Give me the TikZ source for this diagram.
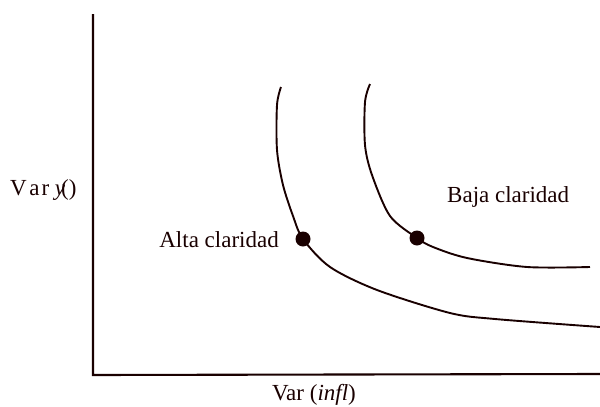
\documentclass[tikz,border=0pt]{standalone}
\usepackage{fontspec}
\setmainfont{Liberation Serif}
\begin{document}
\begin{tikzpicture}[x=1pt,y=-1pt,
  axisline/.style={line width=2.1pt, draw=black!90!red},
  curveline/.style={line width=1.9pt, draw=black!90!red},
  dotnode/.style={circle, fill=black!90!red, inner sep=0pt, minimum size=15pt},
  lbl/.style={font=\fontsize{23}{27}\selectfont, text=black!90!red, inner sep=0pt}]
\useasboundingbox (0,0) rectangle (600,407);
% axes
\coordinate (ytop) at (93,14);
\coordinate (origin) at (93,375);
\coordinate (xend) at (600,374);
\draw[axisline] (ytop) -- (origin) -- (xend);
% dots
\node[dotnode] (dA) at (303,239) {};
\node[dotnode] (dB) at (417,238) {};
% curve 1 (Alta claridad)
\draw[curveline] plot[smooth, tension=0.5] coordinates {(281,87) (277,105) (277,150) (283,185) (293,216) (303,239) (330,267) (377,290) (450,313) (495,319) (600,327)};
% curve 2 (Baja claridad)
\draw[curveline] plot[smooth, tension=0.5] coordinates {(370,84) (365,102) (365,145) (372,175) (390,216) (417,238) (433,247) (467,258) (527,267) (590,267)};
% labels
\node[lbl, anchor=west] (ylab) at (10,190) {V\kern2.5pt a\kern2pt r \textit{y}\kern-4pt()};
\node[lbl, anchor=east] (alta) at (279,240) {Alta claridad};
\node[lbl, anchor=west] (baja) at (447,197) {Baja claridad};
\node[lbl] (xlab) at (314,395) {Var (\textit{infl})};
\end{tikzpicture}
\end{document}
